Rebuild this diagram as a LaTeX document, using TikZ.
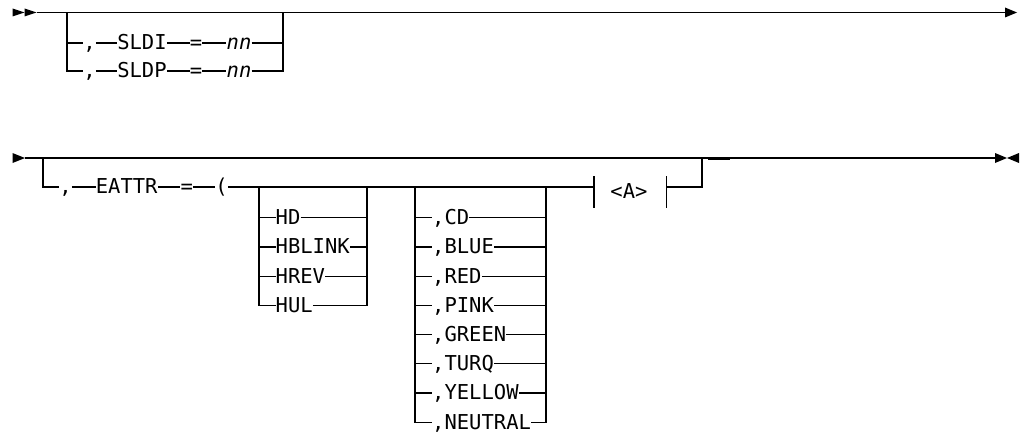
\documentclass[tikz,border=0pt]{standalone}
\usepackage{fontspec}
\newfontfamily\railfont{DejaVu Sans Mono}
\begin{document}
\begin{tikzpicture}[x=1pt,y=-1pt,
  rail/.style={line width=1.3pt},
  lbl/.style={font=\railfont\fontsize{20.5}{21}\selectfont, inner sep=0pt, text height=13.6pt, text depth=0pt},
  ital/.style={lbl, font=\railfont\itshape\fontsize{20.5}{21}\selectfont},
  lw/.style={lbl, anchor=west}]
\useasboundingbox (0,0) rectangle (1024,436);

% ---------- line 1 ----------
\coordinate (st1) at (36.5,12.5);
\coordinate (en1) at (1005,12.5);
\fill (12.5,8.5) -- (24.5,12.5) -- (12.5,16.5) -- cycle;
\fill (24.5,8.5) -- (36.5,12.5) -- (24.5,16.5) -- cycle;
\draw[rail] (st1) -- (en1);
\fill (1005,7.5) -- (1017,12.5) -- (1005,17.5) -- cycle;

\coordinate (b1L) at (67,12.5);
\coordinate (b1R) at (283,12.5);
\node[lbl] (c1) at (89.5,43) {,};
\node[lbl] (sldi) at (142,43) {SLDI};
\node[lbl] (q1) at (196,43) {=};
\node[ital] (n1) at (239,43) {nn};
\node[lbl] (c2) at (89.5,71) {,};
\node[lbl] (sldp) at (142,71) {SLDP};
\node[lbl] (q2) at (196,71) {=};
\node[ital] (n2) at (239,71) {nn};
\draw[rail] (b1L) |- (c1.west) (c1.east) -- (sldi.west) (sldi.east) -- (q1.west) (q1.east) -- (n1.west) (n1.east) -| (b1R);
\draw[rail] (b1L) |- (c2.west) (c2.east) -- (sldp.west) (sldp.east) -- (q2.west) (q2.east) -- (n2.west) (n2.east) -| (b1R);

% ---------- line 2 ----------
\coordinate (st2) at (25,158);
\coordinate (en2) at (995,158);
\fill (12.5,153) -- (25,158) -- (12.5,163) -- cycle;
\draw[rail] (st2) -- (en2);
\fill (995,153) -- (1007,158) -- (995,163) -- cycle;
\fill (1019,153) -- (1007,158) -- (1019,163) -- cycle;

\coordinate (b2L) at (43,158);
\coordinate (b2R) at (702,158);
\node[lbl] (c3) at (65.5,187) {,};
\node[lbl] (eattr) at (126.7,187) {EATTR};
\node[lbl] (q3) at (186.7,187) {=};
\node[lbl] (par) at (221.5,187) {(};
\coordinate (tL) at (594,187);
\coordinate (tR) at (666.7,187);
\draw[rail] (b2L) |- (c3.west) (c3.east) -- (eattr.west) (eattr.east) -- (q3.west) (q3.east) -- (par.west) (par.east) -- (tL);
\draw[rail] (594,176) -- (594,208) (666.7,176) -- (666.7,208);
\node[lbl] (A) at (629,192) {<A>};
\draw[rail] (tR) -| (b2R);
\draw[line width=2pt] (708,158.6) -- (730,158.6);

% group 1
\coordinate (g1L) at (259,187);
\coordinate (g1R) at (367,187);
\node[lw] (hd) at (275.5,217.8) {HD};
\node[lw] (hb) at (275.5,247) {HBLINK};
\node[lw] (hr) at (275.5,276.2) {HREV};
\node[lw] (hu) at (275.5,305.4) {HUL};
\foreach \n in {hd,hb,hr,hu}{
  \draw[rail] (g1L) |- (\n.west) (\n.east) -| (g1R);
}

% group 2
\coordinate (g2L) at (415,187);
\coordinate (g2R) at (546,187);
\node[lw] (cd) at (432,217.8) {,CD};
\node[lw] (bl) at (432,247) {,BLUE};
\node[lw] (rd) at (432,276.2) {,RED};
\node[lw] (pk) at (432,305.4) {,PINK};
\node[lw] (gr) at (432,334.6) {,GREEN};
\node[lw] (tq) at (432,363.8) {,TURQ};
\node[lw] (yl) at (432,393) {,YELLOW};
\node[lw] (nt) at (432,422.2) {,NEUTRAL};
\foreach \n in {cd,bl,rd,pk,gr,tq,yl,nt}{
  \draw[rail] (g2L) |- (\n.west) (\n.east) -| (g2R);
}
\end{tikzpicture}
\end{document}
